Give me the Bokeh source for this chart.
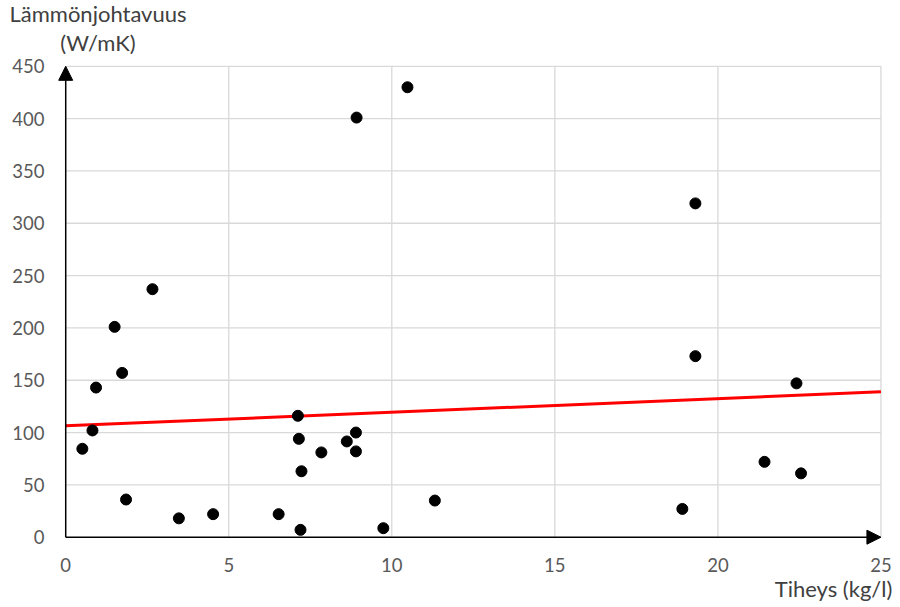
from bokeh.plotting import figure
from bokeh.models import Range1d, Arrow, NormalHead, Label
from bokeh.embed import file_html
from bokeh.resources import INLINE

# Density (kg/l) and thermal conductivity (W/mK) of metals
density = [0.51, 0.82, 0.93, 1.50, 1.73, 1.85, 2.66, 3.47, 4.52, 6.53,
           7.12, 7.15, 7.20, 7.23, 7.84, 8.62, 8.90, 8.90, 8.92, 9.74,
           10.48, 11.32, 18.91, 19.31, 19.31, 21.43, 22.41, 22.55]
conductivity = [84.5, 102, 143, 201, 157, 36, 237, 18, 22, 22,
                116, 94, 7, 63, 81, 91.5, 100, 82, 401, 8.6,
                430, 35, 27, 319, 173, 72, 147, 61]

# Linear trend line end points
trend_x = [0, 25]
trend_y = [106.4, 138.9]

x_ticks = [0, 5, 10, 15, 20, 25]
y_ticks = [0, 50, 100, 150, 200, 250, 300, 350, 400, 450]
x_tick_labels = [str(t) for t in x_ticks]
y_tick_labels = [str(t) for t in y_ticks]

X_MAX = x_ticks[-1]
Y_MAX = y_ticks[-1]

FONT = "Lato"
TICK_COLOR = "#595959"
TITLE_COLOR = "#404040"
GRID_COLOR = "#d9d9d9"
TICK_SIZE = "18.5px"
TITLE_SIZE = "22px"

# The frame covers the whole canvas; the axes are drawn inside it so that
# the arrow heads and titles are not clipped.
p = figure(width=900, height=607,
           min_border=0, min_border_left=0, min_border_right=0,
           min_border_top=0, min_border_bottom=0,
           x_range=Range1d(-2.0, 25.6), y_range=Range1d(-67.2, 512.9),
           output_backend="svg", toolbar_location=None)
p.axis.visible = False
p.grid.visible = False
p.outline_line_color = None
p.background_fill_color = "white"
p.border_fill_color = "white"

# Grid lines
v_ticks = [t for t in x_ticks if t > 0]
h_ticks = [t for t in y_ticks if t > 0]
p.segment(x0=v_ticks, y0=[0] * len(v_ticks), x1=v_ticks, y1=[Y_MAX] * len(v_ticks),
          line_color=GRID_COLOR, line_width=1.3)
p.segment(x0=[0] * len(h_ticks), y0=h_ticks, x1=[X_MAX] * len(h_ticks), y1=h_ticks,
          line_color=GRID_COLOR, line_width=1.3)

# Tick labels
p.text(x=[-0.65] * len(y_ticks), y=y_ticks, text=y_tick_labels,
       text_align="right", text_baseline="middle",
       text_font={"value": FONT}, text_font_size={"value": TICK_SIZE},
       text_color=TICK_COLOR)
p.text(x=x_ticks, y=[-26.5] * len(x_ticks), text=x_tick_labels,
       text_align="center", text_baseline="middle",
       text_font={"value": FONT}, text_font_size={"value": TICK_SIZE},
       text_color=TICK_COLOR)

# Trend line and data points
p.line(trend_x, trend_y, line_color="#ff0000", line_width=3)
p.scatter(density, conductivity, size=11, color="black")

# Axes drawn as arrows
p.add_layout(Arrow(end=NormalHead(size=14, fill_color="black", line_color="black"),
                   x_start=0, y_start=0, x_end=0, y_end=Y_MAX,
                   line_color="black", line_width=1.5))
p.add_layout(Arrow(end=NormalHead(size=14, fill_color="black", line_color="black"),
                   x_start=0, y_start=0, x_end=X_MAX, y_end=0,
                   line_color="black", line_width=1.5))

# Axis titles
p.add_layout(Label(x=0.99, y=487.5, text="Lämmönjohtavuus", text_align="center",
                   text_font=FONT, text_font_size=TITLE_SIZE, text_color=TITLE_COLOR))
p.add_layout(Label(x=0.99, y=460, text="(W/mK)", text_align="center",
                   text_font=FONT, text_font_size=TITLE_SIZE, text_color=TITLE_COLOR))
p.add_layout(Label(x=25.35, y=-62.4, text="Tiheys (kg/l)", text_align="right",
                   text_font=FONT, text_font_size=TITLE_SIZE, text_color=TITLE_COLOR))

open("out.html", "w").write(file_html(p, INLINE))
